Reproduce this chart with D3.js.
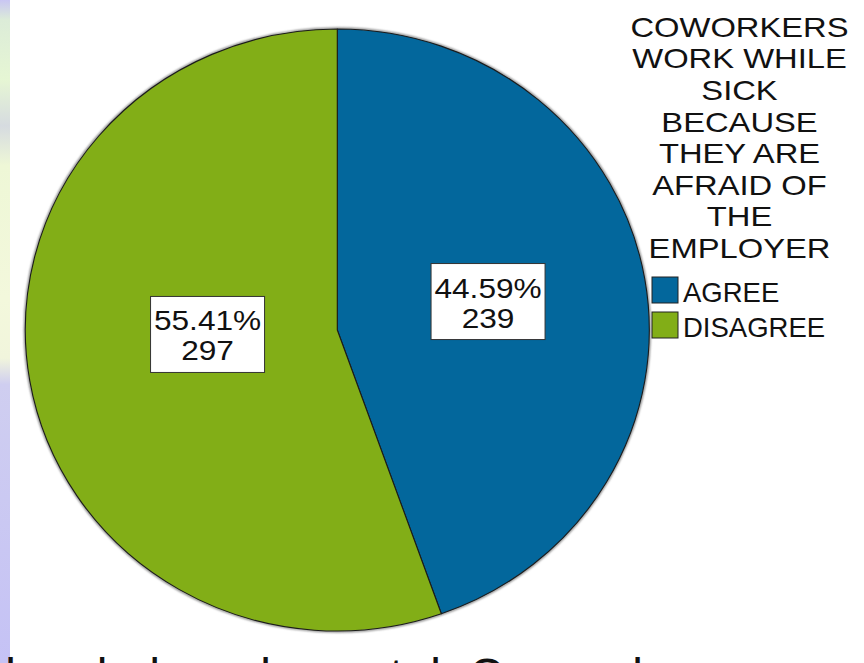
<!DOCTYPE html>
<html>
<head>
<meta charset="utf-8">
<script src="https://cdn.jsdelivr.net/npm/d3@7"></script>
<style>
  html, body { margin: 0; padding: 0; background: #fff; }
  svg { display: block; }
  text { font-family: "Liberation Sans", Arial, sans-serif; fill: #111; }
</style>
</head>
<body>
<svg id="chart" width="864" height="663"></svg>
<script>
// Survey answers
const categories = ["AGREE", "DISAGREE"];
const counts = [239, 297];
const percentLabels = ["44.59%", "55.41%"];
const colors = ["#03679c", "#82ae17"];
const legendTitle = ["COWORKERS", "WORK WHILE", "SICK", "BECAUSE", "THEY ARE", "AFRAID OF", "THE", "EMPLOYER"];
// Footer caption running off the bottom edge
const footerGlyphs = ["l", "d", "h", "l", "t", "l", "C", "l"];

const svg = d3.select("#chart");
const W = 864, H = 663;

// Side strip of the slide background
const defs = svg.append("defs");
const strip = defs.append("linearGradient").attr("id", "strip")
  .attr("x1", 0).attr("y1", 0).attr("x2", 0).attr("y2", 1);
[[0, "#c9c6f3"], [0.03, "#dcecd8"], [0.12, "#e6f6d4"], [0.19, "#d6dbe0"], [0.25, "#eef7d6"],
 [0.45, "#f3f8dc"], [0.54, "#f1f5dc"], [0.58, "#cfcef0"], [1, "#c5c2f5"]]
  .forEach(([o, c]) => strip.append("stop").attr("offset", o).attr("stop-color", c));
svg.append("rect").attr("x", 0).attr("y", 0).attr("width", 10).attr("height", H)
  .attr("fill", "url(#strip)");

const blur = defs.append("filter").attr("id", "soft").attr("x", "-10%").attr("y", "-10%")
  .attr("width", "120%").attr("height", "120%");
blur.append("feGaussianBlur").attr("stdDeviation", 1.2);

// Pie geometry
const cx = 337.3, cy = 330, R = 312, squash = 301 / 312;
const pie = d3.pie().sort(null).value(d => d);
const arcs = pie(counts);
const arc = d3.arc().innerRadius(0).outerRadius(R);

const g = svg.append("g").attr("transform", `translate(${cx},${cy}) scale(1,${squash})`);

// soft rim under the outline
g.append("circle").attr("r", R + 0.5).attr("fill", "none")
  .attr("stroke", "#777").attr("stroke-width", 2).attr("filter", "url(#soft)")
  .attr("vector-effect", "non-scaling-stroke");

g.selectAll("path.slice").data(arcs).join("path")
  .attr("class", "slice")
  .attr("d", arc)
  .attr("fill", (d, i) => colors[i])
  .attr("stroke", "#1b1b1b")
  .attr("stroke-width", 1.1)
  .attr("stroke-linejoin", "round")
  .attr("vector-effect", "non-scaling-stroke");

// Value labels in white boxes (text drawn slightly wide)
const labelArc = d3.arc().innerRadius(0).outerRadius(R);
const nudge = [[-3, -3], [24, -21]];
const boxW = 114, boxH = 76, labelStretch = 1.13;
arcs.forEach((d, i) => {
  const [x0, y0] = labelArc.centroid(d);
  const x = cx + x0 + nudge[i][0];
  const y = cy + y0 * squash + nudge[i][1];
  const lg = svg.append("g").attr("transform", `translate(${x},${y})`);
  lg.append("rect").attr("x", -boxW / 2).attr("y", -boxH / 2)
    .attr("width", boxW).attr("height", boxH)
    .attr("fill", "#fff").attr("stroke", "#333").attr("stroke-width", 1);
  lg.append("text").attr("text-anchor", "middle")
    .attr("transform", `translate(0,-4) scale(${labelStretch},1)`)
    .attr("font-size", 28).text(percentLabels[i]);
  lg.append("text").attr("text-anchor", "middle")
    .attr("transform", `translate(0,26) scale(${labelStretch},1)`)
    .attr("font-size", 28).text(counts[i]);
});

// Legend
const lx = 739.5, titleStretch = 1.19;
svg.append("g").selectAll("text").data(legendTitle).join("text")
  .attr("transform", (d, i) => `translate(${lx},${36.7 + i * 31.6}) scale(${titleStretch},1)`)
  .attr("text-anchor", "middle").attr("font-size", 27.5)
  .text(d => d);

const items = svg.append("g").selectAll("g").data(categories).join("g")
  .attr("transform", (d, i) => `translate(652,${277 + i * 35})`);
items.append("rect").attr("width", 26).attr("height", 26)
  .attr("fill", (d, i) => colors[i]).attr("stroke", "#222").attr("stroke-width", 1);
items.append("text").attr("x", 31).attr("y", 25).attr("font-size", 27.5).text(d => d);

// Footer line, mostly below the visible area
const footerX = [10.5, 94, 162.5, 265.5, 396.5, 435.5, 486, 637.5];
svg.append("g").selectAll("text").data(footerGlyphs).join("text")
  .attr("x", (d, i) => footerX[i]).attr("y", 692)
  .attr("text-anchor", "middle").attr("font-size", 48).attr("fill", "#000")
  .text(d => d);
</script>
</body>
</html>
